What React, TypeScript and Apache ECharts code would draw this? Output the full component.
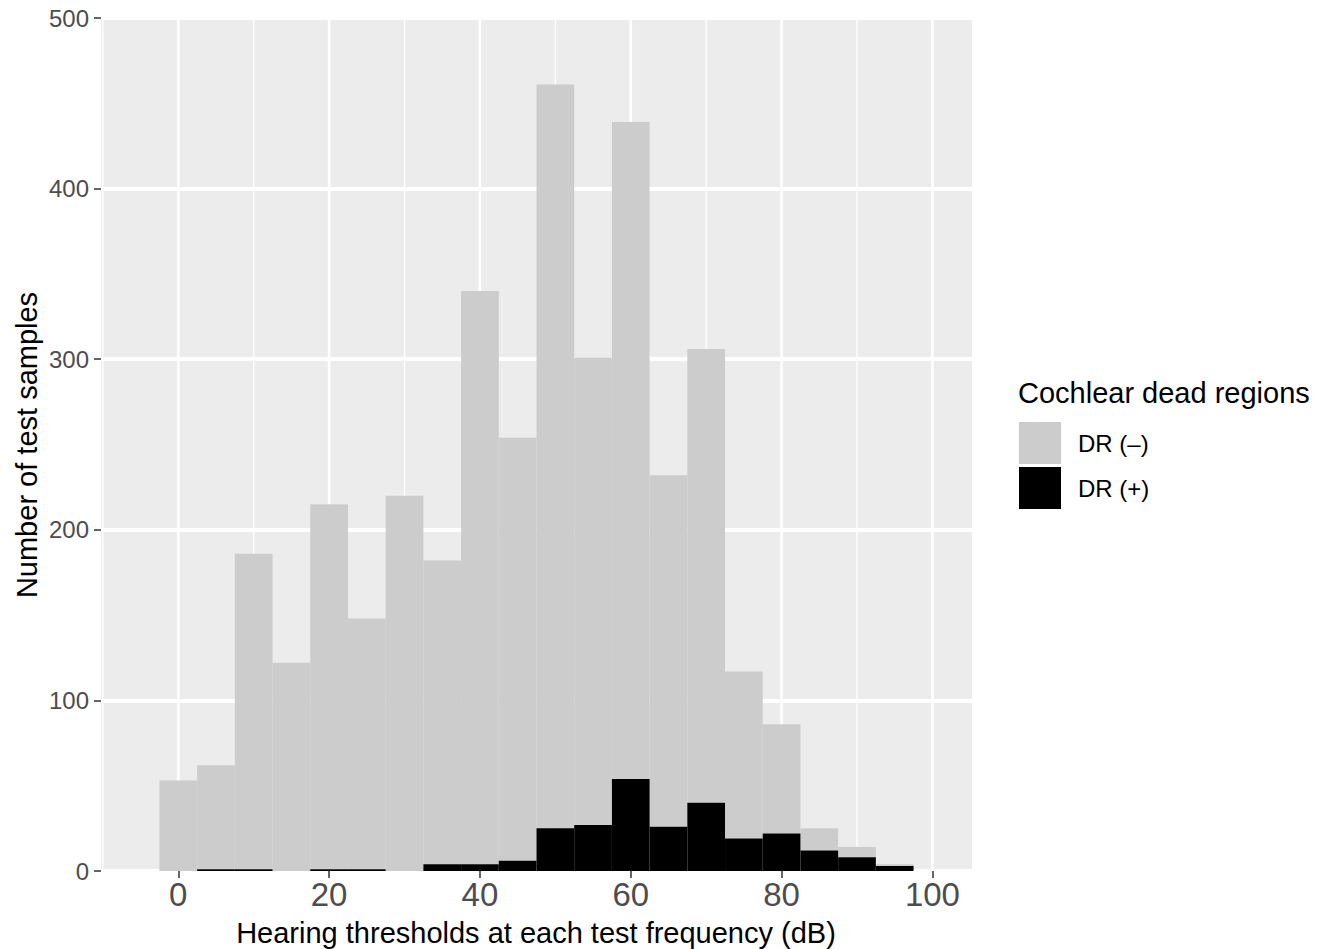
import React, { useEffect, useRef } from "react";
import * as echarts from "echarts";

// Histogram bins (centres, dB), bin width 5
const binCentres = [0, 5, 10, 15, 20, 25, 30, 35, 40, 45, 50, 55, 60, 65, 70, 75, 80, 85, 90, 95];
const binWidth = 5;
// Counts per bin
const drNegative = [53, 61, 185, 122, 214, 147, 220, 178, 336, 248, 436, 274, 385, 206, 266, 98, 64, 13, 6, 1];
const drPositive = [0, 1, 1, 0, 1, 1, 0, 4, 4, 6, 25, 27, 54, 26, 40, 19, 22, 12, 8, 3];

const xMajorTicks = [0, 20, 40, 60, 80, 100];
const xMinorGrid = [-10, 10, 30, 50, 70, 90];
const yTicks = [0, 100, 200, 300, 400, 500];

const seriesNames = ["DR (–)", "DR (+)"];
const legendTitle = "Cochlear dead regions";
const xTitle = "Hearing thresholds at each test frequency (dB)";
const yTitle = "Number of test samples";

const FONT = "'Liberation Sans', Arial, Helvetica, sans-serif";

export default function App() {
  const ref = useRef<HTMLDivElement>(null);

  useEffect(() => {
    document.body.style.margin = "0";
    if (!ref.current) return;
    const chart = echarts.init(ref.current, null, { renderer: "svg" });

    const plusData = binCentres.map((c, i) => [c, 0, drPositive[i]]);
    const minusData = binCentres.map((c, i) => [c, drPositive[i], drPositive[i] + drNegative[i]]);
    const gridData = [
      ...xMajorTicks.map((v) => [v, 1]),
      ...xMinorGrid.map((v) => [v, 0]),
    ];

    const renderBar = (params: any, api: any) => {
      const c = api.value(0);
      const lo = api.value(1);
      const hi = api.value(2);
      if (hi <= lo) return null;
      const p1 = api.coord([c - binWidth / 2, hi]);
      const p2 = api.coord([c + binWidth / 2, lo]);
      return {
        type: "rect",
        shape: { x: p1[0], y: p1[1], width: p2[0] - p1[0], height: p2[1] - p1[1] },
        style: { fill: api.visual("color") },
      };
    };

    const renderGrid = (params: any, api: any) => {
      const v = api.value(0);
      const major = api.value(1) === 1;
      const a = api.coord([v, 0]);
      const b = api.coord([v, 500]);
      return {
        type: "line",
        shape: { x1: a[0], y1: a[1], x2: b[0], y2: b[1] },
        style: { stroke: "#FFFFFF", lineWidth: major ? 2.6 : 1.3 },
        silent: true,
      };
    };

    chart.setOption({
      animation: false,
      grid: {
        left: 101,
        right: 357,
        top: 18,
        bottom: 78,
        show: true,
        backgroundColor: "#ECECEC",
        borderWidth: 0,
      },
      xAxis: {
        type: "value",
        min: -10.25,
        max: 105.25,
        axisLine: { show: false, onZero: false },
        splitLine: { show: false },
        axisTick: {
          show: true,
          customValues: xMajorTicks,
          length: 7,
          lineStyle: { color: "#333333", width: 1.5 },
        },
        axisLabel: {
          customValues: xMajorTicks,
          color: "#4D4D4D",
          fontSize: 33,
          fontFamily: FONT,
          margin: 7,
        },
      },
      yAxis: {
        type: "value",
        min: 0,
        max: 500,
        interval: 100,
        axisLine: { show: false, onZero: false },
        axisTick: {
          show: true,
          length: 7,
          lineStyle: { color: "#333333", width: 1.5 },
        },
        axisLabel: {
          color: "#4D4D4D",
          fontSize: 24,
          fontFamily: FONT,
          margin: 12,
          formatter: (v: number) => (yTicks.includes(v) ? String(v) : ""),
        },
        splitLine: { show: true, lineStyle: { color: "#FFFFFF", width: 4 } },
      },
      legend: {
        orient: "vertical",
        left: 1019,
        top: 422,
        itemWidth: 42,
        itemHeight: 42,
        itemGap: 3,
        padding: 0,
        icon: "rect",
        data: seriesNames,
        textStyle: { fontSize: 24, fontFamily: FONT, color: "#000000", padding: [0, 0, 0, 12] },
      },
      series: [
        {
          type: "custom",
          name: "grid",
          z: 1,
          silent: true,
          renderItem: renderGrid,
          data: gridData,
          itemStyle: { color: "#FFFFFF" },
          clip: true,
        },
        {
          type: "custom",
          name: seriesNames[0],
          z: 3,
          renderItem: renderBar,
          data: minusData,
          itemStyle: { color: "#CCCCCC" },
          encode: { x: 0, y: [1, 2] },
        },
        {
          type: "custom",
          name: seriesNames[1],
          z: 3,
          renderItem: renderBar,
          data: plusData,
          itemStyle: { color: "#000000" },
          encode: { x: 0, y: [1, 2] },
        },
      ],
      graphic: [
        {
          type: "text",
          x: 1018,
          y: 393,
          style: {
            text: legendTitle,
            fontSize: 29,
            fontFamily: FONT,
            fill: "#000000",
            align: "left",
            verticalAlign: "middle",
          },
        },
        {
          type: "text",
          x: 536,
          y: 933,
          style: {
            text: xTitle,
            fontSize: 29,
            fontFamily: FONT,
            fill: "#000000",
            align: "center",
            verticalAlign: "middle",
          },
        },
        {
          type: "text",
          x: 27,
          y: 445,
          rotation: Math.PI / 2,
          style: {
            text: yTitle,
            fontSize: 29,
            fontFamily: FONT,
            fill: "#000000",
            align: "center",
            verticalAlign: "middle",
          },
        },
      ],
    });

    return () => chart.dispose();
  }, []);

  return <div ref={ref} style={{ width: 1329, height: 949 }} />;
}
